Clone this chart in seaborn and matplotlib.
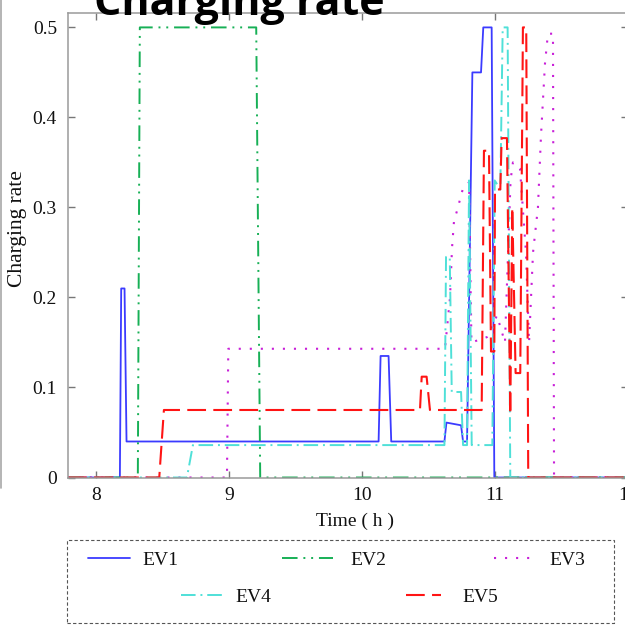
import matplotlib
matplotlib.use("Agg")
import matplotlib.pyplot as plt
import numpy as np
import pandas as pd
import seaborn as sns
from matplotlib.patches import Rectangle
from matplotlib.lines import Line2D

# ---------------- data ----------------
ev1_time = [7.79, 8.18, 8.19, 8.215, 8.23, 10.125, 10.14, 10.2, 10.22, 10.62, 10.635,
            10.745, 10.76, 10.79, 10.83, 10.895, 10.912, 10.975, 10.995, 12.0]
ev1_rate = [0.0, 0.0, 0.21, 0.21, 0.04, 0.04, 0.135, 0.135, 0.04, 0.04, 0.061,
            0.058, 0.04, 0.04, 0.45, 0.45, 0.5, 0.5, 0.0, 0.0]

ev2_time = [7.79, 8.315, 8.33, 9.205, 9.235, 12.0]
ev2_rate = [0.0, 0.0, 0.5, 0.5, 0.0, 0.0]

ev3_time = [7.79, 8.985, 8.995, 10.624, 10.662, 10.677, 10.692, 10.714, 10.759, 10.805,
            10.823, 10.94, 11.015, 11.075, 11.117, 11.135, 11.188, 11.233, 11.256,
            11.286, 11.323, 11.346, 11.376, 11.398, 11.436, 11.444, 12.0]
ev3_rate = [0.0, 0.0, 0.143, 0.143, 0.2, 0.255, 0.285, 0.296, 0.321, 0.328,
            0.15, 0.156, 0.18, 0.15, 0.33, 0.35, 0.343, 0.25, 0.15,
            0.25, 0.3, 0.38, 0.46, 0.493, 0.493, 0.0, 0.0]

ev4_time = [7.79, 8.684, 8.729, 10.62, 10.632, 10.66, 10.675, 10.745, 10.76, 10.79,
            10.805, 10.825, 10.98, 10.998, 11.04, 11.058, 11.095, 11.115, 12.0]
ev4_rate = [0.0, 0.0, 0.036, 0.036, 0.245, 0.245, 0.095, 0.095, 0.036, 0.036,
            0.33, 0.036, 0.036, 0.33, 0.32, 0.5, 0.5, 0.0, 0.0]

ev5_time = [7.79, 8.476, 8.511, 10.436, 10.449, 10.486, 10.511, 10.9, 10.917, 10.955,
            10.97, 10.995, 11.0, 11.04, 11.05, 11.09, 11.115, 11.13, 11.155, 11.19,
            11.21, 11.235, 11.25, 12.0]
ev5_rate = [0.0, 0.0, 0.075, 0.075, 0.112, 0.112, 0.075, 0.075, 0.363, 0.363,
            0.14, 0.14, 0.32, 0.32, 0.377, 0.377, 0.07, 0.3, 0.116, 0.116,
            0.5, 0.5, 0.0, 0.0]

series_names = ["EV1", "EV2", "EV3", "EV4", "EV5"]
x_ticks = [8, 9, 10, 11, 12]
x_tick_labels = ["8", "9", "10", "11", "12"]
y_ticks = [0, 0.1, 0.2, 0.3, 0.4, 0.5]
y_tick_labels = ["0", "0.1", "0.2", "0.3", "0.4", "0.5"]
title_text = "Charging rate"
x_label = "Time ( h )"
y_label = "Charging rate"

# ---------------- styles ----------------
colors = ["#3b3bff", "#17b056", "#c81fd8", "#4fe0d8", "#ff1414"]
linestyles = ["-", (0, (8, 3, 1, 3, 1, 3)), (0, (1, 4.3)), (0, (7.5, 2.5, 1, 2.5)), (0, (9, 3.5))]
linewidths = [1.3, 1.4, 1.5, 1.4, 1.5]

sns.set_theme(style="white")
plt.rcParams["font.family"] = ["Liberation Serif", "DejaVu Serif"]

W = H = 625
fig = plt.figure(figsize=(6.25, 6.25), dpi=100)
fig.patch.set_facecolor("white")
ax = fig.add_axes([68 / W, 1 - 477.5 / H, (628 - 68) / W, (477.5 - 13) / H])

all_series = [(ev1_time, ev1_rate), (ev2_time, ev2_rate), (ev3_time, ev3_rate),
              (ev4_time, ev4_rate), (ev5_time, ev5_rate)]
handles = []
for name, (t, r), c, ls, lw in zip(series_names, all_series, colors, linestyles, linewidths):
    df = pd.DataFrame({"Time": t, "Rate": r})
    sns.lineplot(data=df, x="Time", y="Rate", ax=ax, color=c, linestyle=ls, lw=lw,
                 estimator=None, sort=False, legend=False, label=name)
    handles.append(ax.lines[-1])

ax.set_xlim(7.79, 12.0)
ax.set_ylim(0, 0.516)
ax.set_xticks(x_ticks)
ax.set_xticklabels(x_tick_labels)
ax.set_yticks(y_ticks)
ax.set_yticklabels(y_tick_labels)
ax.tick_params(axis="both", direction="in", length=5, width=1, color="#777777",
               bottom=True, top=True, left=True, right=True,
               labelsize=14, labelcolor="#111111")
ax.tick_params(axis="y", pad=8)
ax.tick_params(axis="x", pad=7)
for sp in ax.spines.values():
    sp.set_visible(True)
    sp.set_color("#9a9a9a")
    sp.set_linewidth(1.1)

ax.set_xlabel(x_label, fontsize=14, color="#111111")
ax.xaxis.set_label_coords((355 - 68) / 560, (477.5 - 513) / 464.5)
ax.set_ylabel(y_label, fontsize=15.5, color="#111111", va="center")
ax.yaxis.set_label_coords((18 - 68) / 560, (477.5 - 229) / 464.5)

# title (partly cut at the top, as in the reference)
fig.text(239 / W, 1 - 15 / H, title_text, ha="center", va="baseline",
         fontsize=31, fontweight="bold", family=["Open Sans", "DejaVu Sans"], color="black")

# legend: one entry each, laid out in two rows inside a dashed box
legend_x = [88, 282, 494, 181, 406]
legend_y = [560, 560, 560, 597, 597]
handle_len = [42, 51, 37, 42, 35]
text_gap = [12, 17, 18, 12, 21]
fs = 14
fs_px = fs * 100 / 72
for h, name, lx, ly, hl, tg in zip(handles, series_names, legend_x, legend_y, handle_len, text_gap):
    fig.legend(handles=[h], labels=[name], loc="center left",
               bbox_to_anchor=(lx / W, 1 - ly / H), frameon=False,
               borderpad=0, borderaxespad=0, handlelength=hl / fs_px,
               handletextpad=tg / fs_px, fontsize=fs, labelcolor="#111111")

fig.add_artist(Rectangle((67 / W, 1 - 623 / H), (614 - 67) / W, (623 - 540) / H,
                         transform=fig.transFigure, fill=False, edgecolor="#555555",
                         linestyle=(0, (3, 2)), linewidth=0.8))

# remnant of a neighbouring panel at the far left edge
fig.add_artist(Line2D([1.2 / W, 1.2 / W], [1.0, 1 - 488 / H], transform=fig.transFigure,
                      color="#a8a8a8", linewidth=1.2))

fig.savefig("out.png", dpi=100, facecolor="white")
